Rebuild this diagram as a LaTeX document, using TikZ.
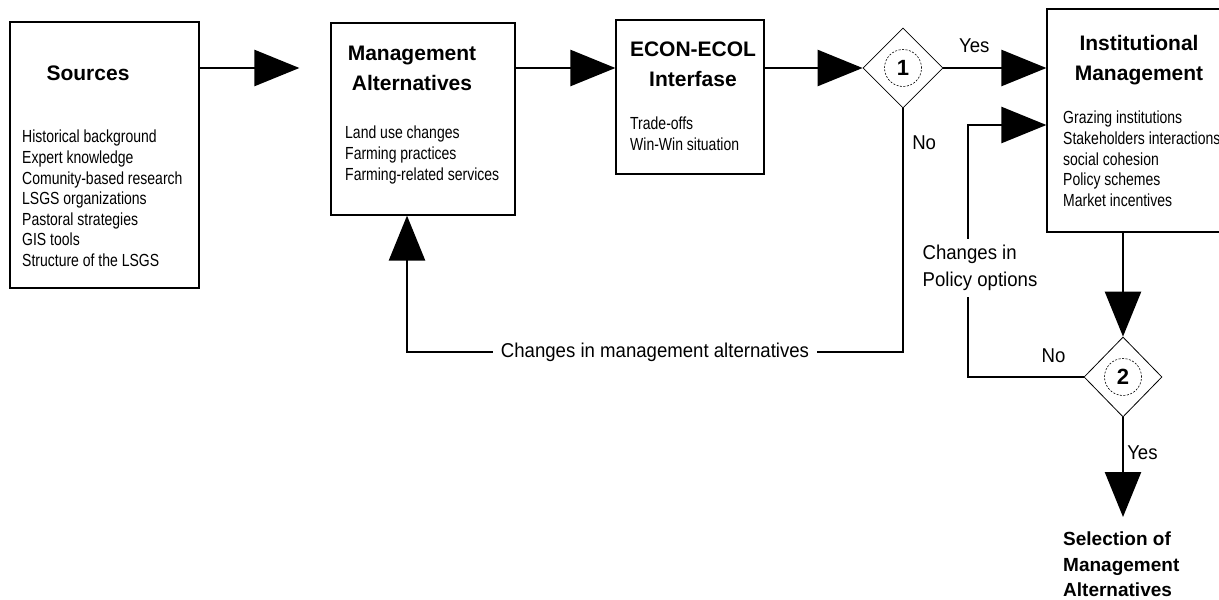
\documentclass[tikz,border=0pt]{standalone}
\usepackage{fontspec}
\setmainfont{Liberation Sans}
\newfontfamily\narrowfont[FakeStretch=0.8]{Liberation Sans}
\newfontfamily\labelfont[FakeStretch=0.93]{Liberation Sans}
\usetikzlibrary{arrows.meta, shapes.geometric}

\tikzset{
    boxnode/.style={
        rectangle,
        draw=black,
        line width=1.2pt, % thin border
        inner sep=0
    },
    titlenode/.style={
        align=center,
        inner sep=0,
        font=\bfseries\fontsize{21}{30}\selectfont
    },
    itemnode/.style={
        anchor=north west,
        align=left,
        inner sep=0,
        font=\narrowfont\fontsize{17.5}{20.6}\selectfont
    },
    decisionnode/.style={
        diamond,
        draw=black,
        line width=0.8pt,
        minimum size=80pt,
        inner sep=0
    },
    numbernode/.style={
        circle,
        draw=black,
        dash pattern=on 2pt off 1.5pt, % dashed ring
        line width=0.6pt,
        minimum size=37pt,
        inner sep=0,
        font=\bfseries\fontsize{22}{22}\selectfont
    },
    labelnode/.style={
        align=left,
        inner sep=2pt,
        font=\labelfont\fontsize{20}{27}\selectfont
    },
    flow/.style={
        line width=2.5pt,
        -{Triangle[length=45pt,width=36pt]}
    }
}

\begin{document}
\begin{tikzpicture}[x=1pt, y=-1pt]
    % page
    \fill[white] (0,0) rectangle (1219,600);
    \useasboundingbox (0,0) rectangle (1219,600);
    \clip (0,0) rectangle (1219,600);

    % boxes
    \node[boxnode, minimum width=189pt, minimum height=266pt] (src) at (104.5,155) {};
    \node[boxnode, minimum width=184pt, minimum height=192pt] (mgmt) at (423,119) {};
    \node[boxnode, minimum width=148pt, minimum height=154pt] (econ) at (690,97) {};
    \node[boxnode, minimum width=183pt, minimum height=223pt] (inst) at (1138.5,120.5) {};

    % titles
    \node[titlenode] (srctitle) at (88,73) {Sources};
    \node[titlenode] (mgmttitle) at (412,68) {Management\\Alternatives};
    \node[titlenode] (econtitle) at (693,64) {ECON-ECOL\\Interfase};
    \node[titlenode] (insttitle) at (1139,60) {Institutional\\Management};

    % lists
    \node[itemnode] (srcitems) at (22,130) {Historical background\\Expert knowledge\\Comunity-based research\\LSGS organizations\\Pastoral strategies\\GIS tools\\Structure of the LSGS};
    \node[itemnode] (mgmtitems) at (345,126) {Land use changes\\Farming practices\\Farming-related services};
    \node[itemnode] (econitems) at (630,117) {Trade-offs\\Win-Win situation};
    \node[itemnode] (institems) at (1063,111) {Grazing institutions\\Stakeholders interactions\\social cohesion\\Policy schemes\\Market incentives};

    % decisions
    \node[decisionnode] (d1) at (903,68) {};
    \node[numbernode] (n1) at (d1) {1};
    \node[decisionnode, minimum width=78pt] (d2) at (1123,377) {};
    \node[numbernode] (n2) at (d2) {2};

    \node[titlenode, align=left, anchor=north west, font=\bfseries\fontsize{19}{25.5}\selectfont] (sel) at (1063,532) {Selection of\\Management\\Alternatives};

    % main flow
    \draw[flow, shorten >=31pt] (src.east |- d1) -- (mgmt.west |- d1);
    \draw[flow] (mgmt.east |- d1) -- (econ.west |- d1);
    \draw[flow] (econ.east |- d1) -- (d1.west);
    \draw[flow] (d1.east) -- node[labelnode, pos=0.3, above=12pt] {Yes} (inst.west |- d1);

    % back to alternatives
    \coordinate (back) at (407,352);
    \draw[flow] (d1.south) |- node[labelnode, pos=0.07, right=6pt] {No}
        node[labelnode, pos=0.75, fill=white, inner xsep=8pt] {Changes in management alternatives} (back)
        -- (mgmt.south -| back);

    % second decision
    \draw[flow] (inst.south -| d2) -- (d2.north);
    \draw[flow, shorten >=15pt] (d2.south) -- node[labelnode, pos=0.31, right=1pt] {Yes} (sel.north -| d2);

    \coordinate (pol) at (968,125);
    \draw[flow] (d2.west) -| node[labelnode, pos=0.13, above=11pt] {No}
        node[labelnode, pos=0.716, fill=white, inner ysep=6pt, xshift=12pt] {Changes in\\Policy options} (pol)
        -- (inst.west |- pol);
\end{tikzpicture}
\end{document}
